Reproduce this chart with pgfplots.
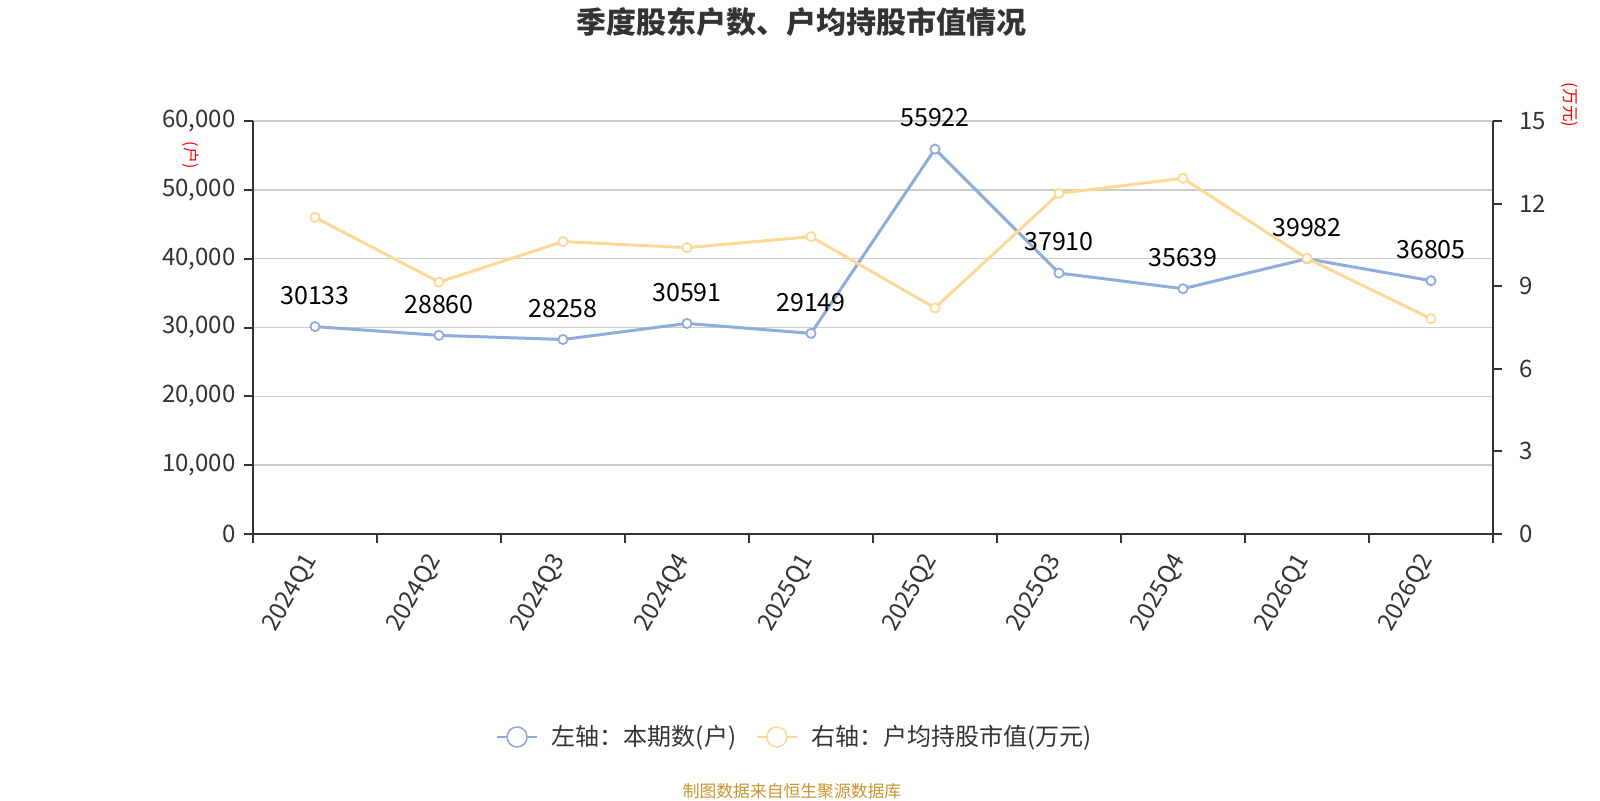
\documentclass[border=0pt]{standalone}
\usepackage{pgfplots}
\pgfplotsset{compat=1.18}
\usepackage{fontspec}
\setmainfont{Noto Sans CJK SC}
\definecolor{cblue}{HTML}{8EACDC}
\definecolor{cyel}{HTML}{FFD896}
\definecolor{txt}{HTML}{333333}
\definecolor{gridc}{HTML}{CCCCCC}
\definecolor{foot}{HTML}{C99530}
\begin{document}
\begin{tikzpicture}
\useasboundingbox (-126.5pt,-133pt) rectangle (673.5pt,267pt);
\begin{axis}[
  scale only axis, width=620pt, height=206.5pt,
  at={(0,0)}, anchor=south west, clip=false,
  xmin=-0.5, xmax=9.5, ymin=0, ymax=60000,
  axis x line*=bottom, axis y line*=left,
  axis line style={txt, line width=1pt},
  tick align=outside, major tick length=4.5pt,
  tick style={txt, line width=1pt},
  xtick={-0.5,0.5,...,9.5}, xticklabel={\relax},
  extra x ticks={0,1,2,3,4,5,6,7,8,9},
  extra x tick labels={2024Q1,2024Q2,2024Q3,2024Q4,2025Q1,2025Q2,2025Q3,2025Q4,2026Q1,2026Q2},
  extra x tick style={major tick length=0pt, xticklabel style={xshift=-1.5pt, yshift=-11pt, rotate=60, anchor=east, inner sep=0pt}},
  ytick={0,10000,...,60000},
  ymajorgrids, grid style={gridc, line width=0.8pt},
  /pgf/number format/assume math mode=true,
  /pgf/number format/.cd, fixed, 1000 sep={,}, /pgfplots/.cd,
  yticklabel style={inner sep=0pt, xshift=-4pt},
  tick label style={text=txt, font=\fontsize{12pt}{14pt}\selectfont},
  scaled y ticks=false,
]
\addplot[cblue, line width=1.5pt, mark=*, mark size=2.3pt,
  mark options={fill=white, line width=0.9pt},
  nodes near coords, point meta=explicit symbolic,
  every node near coord/.append style={text=black, anchor=center, yshift=15.5pt, font=\fontsize{12.5pt}{14pt}\selectfont}]
coordinates {(0,30133)[30133] (1,28860)[28860] (2,28258)[28258] (3,30591)[30591] (4,29149)[29149] (5,55922)[55922] (6,37910)[37910] (7,35639)[35639] (8,39982)[39982] (9,36805)[36805]};
\end{axis}
\begin{axis}[
  scale only axis, width=620pt, height=206.5pt,
  at={(0,0)}, anchor=south west, clip=false,
  xmin=-0.5, xmax=9.5, ymin=0, ymax=15,
  axis x line=none, axis y line*=right,
  axis line style={txt, line width=1pt},
  tick align=outside, major tick length=4.5pt,
  tick style={txt, line width=1pt},
  ytick={0,3,...,15},
  /pgf/number format/assume math mode=true,
  yticklabel style={inner sep=0pt, xshift=8.5pt},
  tick label style={text=txt, font=\fontsize{12pt}{14pt}\selectfont},
  legend style={at={(0.438,-0.4915)}, anchor=center, draw=none, fill=none,
    legend columns=2, font=\fontsize{12pt}{13pt}\selectfont, text=txt,
    /tikz/every odd column/.append style={column sep=5pt},
    /tikz/every even column/.append style={column sep=8pt}},
  legend image code/.code={\draw[line width=0.8pt] (0pt,0pt) -- (20pt,0pt);
    \draw[line width=0.8pt, fill=white] (10pt,0pt) circle (5pt);},
]
\addlegendimage{cblue}
\addlegendentry{左轴：本期数(户)}
\addplot[cyel, line width=1.5pt, mark=*, mark size=2.3pt,
  mark options={fill=white, line width=0.9pt}]
coordinates {(0,11.50) (1,9.15) (2,10.62) (3,10.40) (4,10.80) (5,8.21) (6,12.37) (7,12.92) (8,10.01) (9,7.82)};
\addlegendentry{右轴：户均持股市值(万元)}
\end{axis}
\node[text=txt, font=\fontsize{15pt}{17pt}\selectfont\bfseries] at (274pt,256pt) {季度股东户数、户均持股市值情况};
\node[text=red, rotate=-90, font=\fontsize{8pt}{9pt}\selectfont] at (-31pt,189.5pt) {(户)};
\node[text=red, rotate=-90, font=\fontsize{8.3pt}{9pt}\selectfont] at (658.5pt,214.5pt) {(万元)};
\node[text=foot, font=\fontsize{8.4pt}{9pt}\selectfont] at (269.5pt,-128.5pt) {制图数据来自恒生聚源数据库};
\end{tikzpicture}
\end{document}
